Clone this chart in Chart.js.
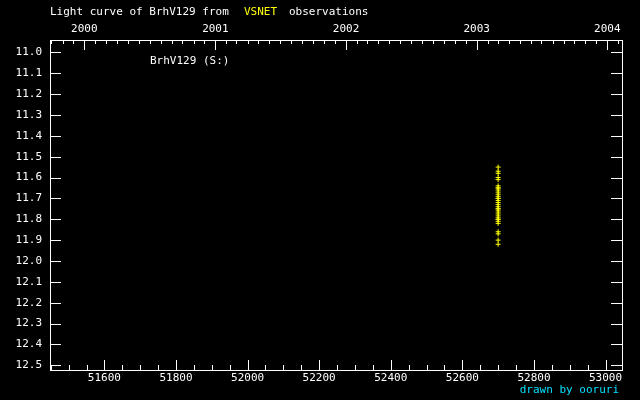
<!DOCTYPE html>
<html>
<head>
<meta charset="utf-8">
<script src="https://cdn.jsdelivr.net/npm/chart.js@4"></script>
<style>
  body { margin: 0; background: #000; }
  canvas { display: block; background: #000; }
</style>
</head>
<body>
<canvas id="lc" width="640" height="400"></canvas>
<script>
// observations (MJD, visual magnitude)
const obsMjd = [52700, 52700, 52700, 52700, 52700, 52700, 52700, 52700,
                52700, 52700, 52700, 52700, 52700, 52700, 52700, 52700,
                52700, 52700, 52700, 52700, 52700, 52700, 52700, 52700,
                52700, 52700, 52700, 52700, 52700, 52700, 52700, 52700];
const obsMag = [11.55, 11.57, 11.58, 11.60, 11.61, 11.64, 11.65, 11.65,
                11.66, 11.67, 11.68, 11.69, 11.70, 11.70, 11.71, 11.72,
                11.73, 11.74, 11.75, 11.75, 11.76, 11.77, 11.78, 11.79,
                11.80, 11.80, 11.81, 11.82, 11.86, 11.87, 11.90, 11.92];

const mjdTicks = [51600, 51800, 52000, 52200, 52400, 52600, 52800, 53000];
const magTicks = [11.0, 11.1, 11.2, 11.3, 11.4, 11.5, 11.6, 11.7,
                  11.8, 11.9, 12.0, 12.1, 12.2, 12.3, 12.4, 12.5];
const yearLabels = ['2000', '2001', '2002', '2003', '2004'];

const starName = 'BrhV129';
const FONT = '11px "DejaVu Sans Mono"';

function mjdOf(y, m) {
    return Date.UTC(y, m, 1) / 86400000 + 40587;
}
const yearMjd = yearLabels.map(y => mjdOf(+y, 0));

// inward tick marks, frame and the extra text
const framePlugin = {
    id: 'frame',
    afterDraw(chart) {
        const ctx = chart.ctx;
        const a = chart.chartArea;
        const x = chart.scales.x;
        const y = chart.scales.y;
        ctx.save();
        ctx.strokeStyle = '#fff';
        ctx.lineWidth = 1;
        ctx.strokeRect(Math.round(a.left) + 0.5, Math.round(a.top) + 0.5,
                       Math.round(a.right - a.left), Math.round(a.bottom - a.top));

        ctx.beginPath();
        // bottom: every 50 days, long every 200
        for (let d = Math.ceil(x.min / 50) * 50; d <= x.max; d += 50) {
            const px = Math.round(x.getPixelForValue(d)) + 0.5;
            const len = d % 200 === 0 ? 10 : 5;
            ctx.moveTo(px, a.bottom);
            ctx.lineTo(px, a.bottom - len);
        }
        // top: months, long at new year
        for (let yr = 1999; yr <= 2004; yr++) {
            for (let m = 0; m < 12; m++) {
                const d = mjdOf(yr, m);
                if (d < x.min || d > x.max) continue;
                const px = Math.round(x.getPixelForValue(d)) + 0.5;
                const len = m === 0 ? 10 : 4;
                ctx.moveTo(px, a.top);
                ctx.lineTo(px, a.top + len);
            }
        }
        // magnitude ticks both sides
        magTicks.forEach(v => {
            const py = Math.round(y.getPixelForValue(v)) + 0.5;
            ctx.moveTo(a.left, py);
            ctx.lineTo(a.left + 11, py);
            ctx.moveTo(a.right, py);
            ctx.lineTo(a.right - 11, py);
        });
        ctx.stroke();

        ctx.font = FONT;
        ctx.textBaseline = 'middle';
        ctx.textAlign = 'left';
        ctx.fillStyle = '#fff';
        ctx.fillText('Light curve of ' + starName + ' from', 50, 12);
        ctx.fillStyle = '#ffff00';
        ctx.fillText('VSNET', 244, 12);
        ctx.fillStyle = '#fff';
        ctx.fillText('observations', 289, 12);
        ctx.fillText(starName + ' (S:)', 150, 61);
        ctx.textAlign = 'right';
        ctx.fillStyle = '#00e0ff';
        ctx.fillText('drawn by ooruri', 619, 390);
        ctx.restore();
    }
};

new Chart(document.getElementById('lc'), {
    type: 'scatter',
    data: {
        datasets: [{
            label: starName,
            data: obsMjd.map((d, i) => ({ x: d, y: obsMag[i] })),
            pointStyle: 'cross',
            pointRadius: 2.5,
            borderColor: '#ffff00',
            backgroundColor: '#ffff00',
            borderWidth: 1
        }]
    },
    options: {
        responsive: false,
        animation: false,
        devicePixelRatio: 1,
        layout: { padding: 0 },
        plugins: {
            legend: { display: false },
            tooltip: { enabled: false }
        },
        scales: {
            x: {
                type: 'linear',
                position: 'bottom',
                min: 51448,
                max: 53046,
                afterBuildTicks: s => { s.ticks = mjdTicks.map(v => ({ value: v })); },
                afterFit: s => { s.height = 30; },
                ticks: {
                    color: '#fff', font: { family: 'DejaVu Sans Mono', size: 11 },
                    padding: 2, autoSkip: false, maxRotation: 0,
                    callback: v => String(v)
                },
                grid: { display: false, drawTicks: false },
                border: { display: false }
            },
            x2: {
                type: 'linear',
                position: 'top',
                min: 51448,
                max: 53046,
                afterBuildTicks: s => { s.ticks = yearMjd.map(v => ({ value: v })); },
                afterFit: s => { s.height = 40; },
                ticks: {
                    color: '#fff', font: { family: 'DejaVu Sans Mono', size: 11 },
                    padding: 4, autoSkip: false, maxRotation: 0,
                    callback: (v, i) => yearLabels[i]
                },
                grid: { display: false, drawTicks: false },
                border: { display: false }
            },
            y: {
                type: 'linear',
                position: 'left',
                reverse: true,
                min: 10.941,
                max: 12.5225,
                afterBuildTicks: s => { s.ticks = magTicks.map(v => ({ value: v })); },
                afterFit: s => { s.width = 50; },
                ticks: {
                    color: '#fff', font: { family: 'DejaVu Sans Mono', size: 11 },
                    padding: 8, autoSkip: false,
                    callback: v => v.toFixed(1)
                },
                grid: { display: false, drawTicks: false },
                border: { display: false }
            },
            y2: {
                type: 'linear',
                position: 'right',
                display: true,
                min: 0,
                max: 1,
                afterFit: s => { s.width = 18; },
                ticks: { display: false },
                grid: { display: false, drawTicks: false },
                border: { display: false }
            }
        }
    },
    plugins: [framePlugin]
});
</script>
</body>
</html>
